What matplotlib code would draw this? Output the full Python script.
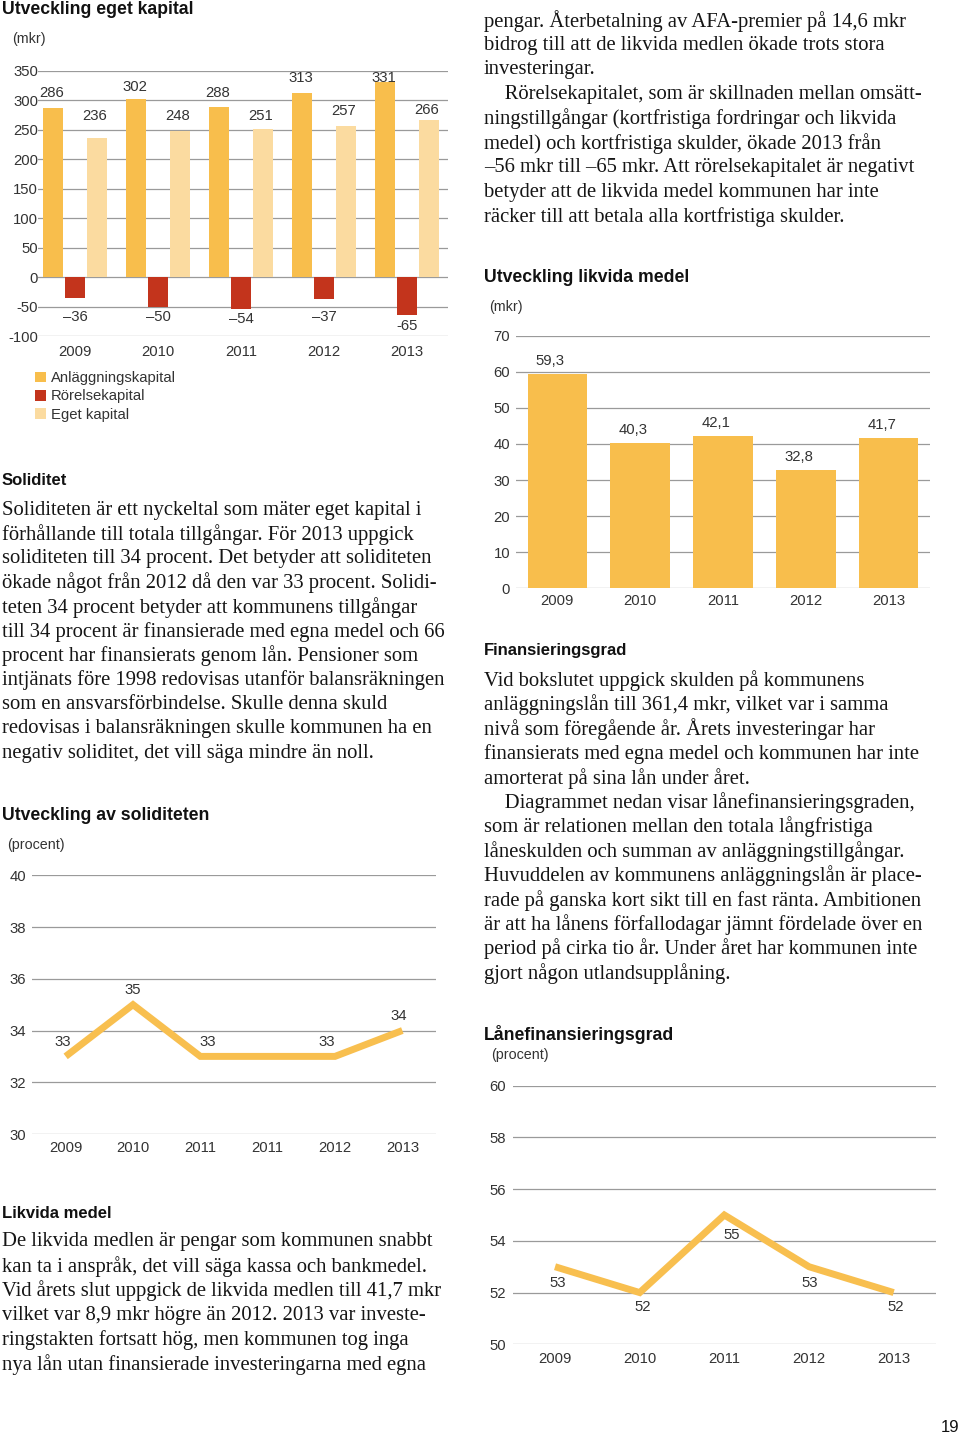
import matplotlib
matplotlib.use('Agg')
import matplotlib.pyplot as plt

W, H = 960, 1436
plt.rcParams['font.family'] = ['Liberation Sans', 'DejaVu Sans']
plt.rcParams['axes.unicode_minus'] = False

# ---------------- data ----------------
years = ['2009', '2010', '2011', '2012', '2013']
anlaggningskapital = [286, 302, 288, 313, 331]
rorelsekapital = [-36, -50, -54, -37, -65]
rorelse_labels = ['–36', '–50', '–54', '–37', '-65']
eget_kapital = [236, 248, 251, 257, 266]
kapital_ticks = [-100, -50, 0, 50, 100, 150, 200, 250, 300, 350]

likvida_medel = [59.3, 40.3, 42.1, 32.8, 41.7]
likvida_labels = ['59,3', '40,3', '42,1', '32,8', '41,7']
likvida_ticks = [0, 10, 20, 30, 40, 50, 60, 70]

soliditet_years = ['2009', '2010', '2011', '2011', '2012', '2013']
soliditet = [33, 35, 33, 33, 33, 34]
soliditet_labels = ['33', '35', '33', '', '33', '34']
soliditet_ticks = [30, 32, 34, 36, 38, 40]

lanefin = [53, 52, 55, 53, 52]
lanefin_ticks = [50, 52, 54, 56, 58, 60]

# ---------------- text ----------------
text_right_top = [
    "pengar. Återbetalning av AFA-premier på 14,6 mkr",
    "bidrog till att de likvida medlen ökade trots stora",
    "investeringar.",
    "\u2003Rörelsekapitalet, som är skillnaden mellan omsätt-",
    "ningstillgångar (kortfristiga fordringar och likvida",
    "medel) och kortfristiga skulder, ökade 2013 från",
    "–56 mkr till –65 mkr. Att rörelsekapitalet är negativt",
    "betyder att de likvida medel kommunen har inte",
    "räcker till att betala alla kortfristiga skulder.",
]
text_soliditet = [
    "Soliditeten är ett nyckeltal som mäter eget kapital i",
    "förhållande till totala tillgångar. För 2013 uppgick",
    "soliditeten till 34 procent. Det betyder att soliditeten",
    "ökade något från 2012 då den var 33 procent. Solidi-",
    "teten 34 procent betyder att kommunens tillgångar",
    "till 34 procent är finansierade med egna medel och 66",
    "procent har finansierats genom lån. Pensioner som",
    "intjänats före 1998 redovisas utanför balansräkningen",
    "som en ansvarsförbindelse. Skulle denna skuld",
    "redovisas i balansräkningen skulle kommunen ha en",
    "negativ soliditet, det vill säga mindre än noll.",
]
text_finans = [
    "Vid bokslutet uppgick skulden på kommunens",
    "anläggningslån till 361,4 mkr, vilket var i samma",
    "nivå som föregående år. Årets investeringar har",
    "finansierats med egna medel och kommunen har inte",
    "amorterat på sina lån under året.",
    "\u2003Diagrammet nedan visar lånefinansieringsgraden,",
    "som är relationen mellan den totala långfristiga",
    "låneskulden och summan av anläggningstillgångar.",
    "Huvuddelen av kommunens anläggningslån är place-",
    "rade på ganska kort sikt till en fast ränta. Ambitionen",
    "är att ha lånens förfallodagar jämnt fördelade över en",
    "period på cirka tio år. Under året har kommunen inte",
    "gjort någon utlandsupplåning.",
]
text_likvida = [
    "De likvida medlen är pengar som kommunen snabbt",
    "kan ta i anspråk, det vill säga kassa och bankmedel.",
    "Vid årets slut uppgick de likvida medlen till 41,7 mkr",
    "vilket var 8,9 mkr högre än 2012. 2013 var investe-",
    "ringstakten fortsatt hög, men kommunen tog inga",
    "nya lån utan finansierade investeringarna med egna",
]

# ---------------- styles ----------------
C_ANL = '#F8BE4C'
C_ROR = '#C3341C'
C_EGET = '#FBDBA0'
C_LINE = '#F8BF4F'
C_GRID = '#9a9a9a'
C_TICK = '#333333'
TS = 10.7
SERIF = ['Liberation Serif', 'DejaVu Serif']
BODY_FS = 14.85

fig = plt.figure(figsize=(W / 100, H / 100), dpi=100)


def add_ax(x0, y0, x1, y1):
    return fig.add_axes([x0 / W, 1 - y1 / H, (x1 - x0) / W, (y1 - y0) / H])


def ftext(x, y, s, **kw):
    kw.setdefault('va', 'center')
    fig.text(x / W, 1 - y / H, s, **kw)


def heading(x, y, s, fs=12.7):
    ftext(x, y, s, fontsize=fs, fontweight='bold', color='#111111')


def body(x, y0, lines, step=24.45):
    for i, ln in enumerate(lines):
        ftext(x, y0 + i * step, ln, fontsize=BODY_FS, family=SERIF, color='#151515')


def style(ax, ticks, ylim, xlim, ypad, xpad, labels=None):
    ax.set_ylim(*ylim)
    ax.set_xlim(*xlim)
    ax.set_yticks(ticks)
    ax.set_yticklabels(labels if labels is not None else [str(t) for t in ticks])
    for s in ax.spines.values():
        s.set_visible(False)
    ax.tick_params(axis='both', length=0, labelsize=TS, colors=C_TICK)
    ax.tick_params(axis='y', pad=ypad)
    ax.tick_params(axis='x', pad=xpad)
    ax.grid(axis='y', color=C_GRID, lw=0.9)
    ax.grid(axis='x', visible=False)
    ax.set_axisbelow(True)
    ax.patch.set_alpha(0)


# ---------- Chart 1: Utveckling eget kapital ----------
heading(2, 9.5, 'Utveckling eget kapital')
ftext(12, 39, '(mkr)', fontsize=10.3, color=C_TICK)
ax1 = add_ax(38, 70.7, 448, 336)
style(ax1, kapital_ticks, (-100, 350), (-0.446, 4.494), 0, 6.2)
x = list(range(len(years)))
b1 = ax1.bar([i - 0.265 for i in x], anlaggningskapital, width=0.24, color=C_ANL, zorder=3,
             label='Anläggningskapital')
b2 = ax1.bar(x, rorelsekapital, width=0.24, color=C_ROR, zorder=3, label='Rörelsekapital')
b3 = ax1.bar([i + 0.27 for i in x], eget_kapital, width=0.24, color=C_EGET, zorder=3,
             label='Eget kapital')
ax1.set_xticks(x)
ax1.set_xticklabels(years)
anl_off = [15, 12, 14, 15, 4]
eget_off = [22, 15, 13, 15, 10]
for i in x:
    ax1.annotate(str(anlaggningskapital[i]), (i - 0.265, anlaggningskapital[i]),
                 xytext=(-1, anl_off[i]), textcoords='offset pixels', ha='center', va='center',
                 fontsize=TS, color=C_TICK)
    ax1.annotate(str(eget_kapital[i]), (i + 0.27, eget_kapital[i]),
                 xytext=(-3, eget_off[i]), textcoords='offset pixels', ha='center', va='center',
                 fontsize=TS, color=C_TICK)
    ax1.annotate(rorelse_labels[i], (i, min(rorelsekapital[i], -50)),
                 xytext=(0, -10.5), textcoords='offset pixels', ha='center', va='center',
                 fontsize=TS, color=C_TICK)
leg = ax1.legend(handles=[b1, b2, b3], loc='upper left',
                 bbox_to_anchor=(35 / W, 1 - 371 / H), bbox_transform=fig.transFigure,
                 frameon=False, fontsize=TS, handlelength=0.72, handleheight=0.72,
                 handletextpad=0.35, labelspacing=0.3, borderpad=0, borderaxespad=0)
for t in leg.get_texts():
    t.set_color(C_TICK)

# ---------- Right column top text ----------
body(484, 20.7, text_right_top, step=24.5)

# ---------- Chart 2: Utveckling likvida medel ----------
heading(484, 278, 'Utveckling likvida medel')
ftext(489, 307, '(mkr)', fontsize=10.3, color=C_TICK)
ax2 = add_ax(516, 335.7, 930, 588.3)
style(ax2, likvida_ticks, (0, 70), (-0.5, 4.5), 4.3, 4)
ax2.bar(x, likvida_medel, width=0.72, color=C_ANL, zorder=3)
ax2.set_xticks(x)
ax2.set_xticklabels(years)
for i in x:
    ax2.annotate(likvida_labels[i], (i, likvida_medel[i]), xytext=(-7, 13),
                 textcoords='offset pixels', ha='center', va='center', fontsize=TS, color=C_TICK)

# ---------- Soliditet text ----------
heading(2, 480, 'Soliditet', fs=12)
body(2, 510, text_soliditet, step=24.33)

# ---------- Finansieringsgrad text ----------
heading(484, 650.5, 'Finansieringsgrad', fs=12)
body(484, 680.5, text_finans, step=24.4)

# ---------- Chart 3: Utveckling av soliditeten ----------
heading(2, 815, 'Utveckling av soliditeten')
ftext(7, 845, '(procent)', fontsize=10.3, color=C_TICK)
ax3 = add_ax(32, 875.3, 436, 1134)
style(ax3, soliditet_ticks, (30, 40), (-0.5, 5.5), 4.3, 5.2)
xs = list(range(len(soliditet_years)))
ax3.plot(xs, soliditet, color=C_LINE, lw=5, zorder=3, solid_joinstyle='miter',
         solid_capstyle='butt')
ax3.set_xticks(xs)
ax3.set_xticklabels(soliditet_years)
sol_dx = [-3, 0, 7, 0, -8, -4]
for i in xs:
    if soliditet_labels[i]:
        ax3.annotate(soliditet_labels[i], (i, soliditet[i]), xytext=(sol_dx[i], 14.5),
                     textcoords='offset pixels', ha='center', va='center', fontsize=TS,
                     color=C_TICK)

# ---------- Likvida medel text ----------
heading(2, 1213, 'Likvida medel', fs=12)
body(2, 1241.7, text_likvida, step=24.65)

# ---------- Chart 4: Lånefinansieringsgrad ----------
heading(484, 1035, 'Lånefinansieringsgrad')
ftext(491, 1055, '(procent)', fontsize=10.3, color=C_TICK)
ax4 = add_ax(512.7, 1085.7, 936, 1344.3)
style(ax4, lanefin_ticks, (50, 60), (-0.5, 4.5), 4.8, 5.2)
ax4.plot(x, lanefin, color=C_LINE, lw=5, zorder=3, solid_joinstyle='miter',
         solid_capstyle='butt')
ax4.set_xticks(x)
ax4.set_xticklabels(years)
lan_dx = [3, 3, 7, 1, 2]
lan_dy = [-16.5, -14, -20, -16.5, -14]
for i in x:
    ax4.annotate(str(lanefin[i]), (i, lanefin[i]), xytext=(lan_dx[i], lan_dy[i]),
                 textcoords='offset pixels', ha='center', va='center', fontsize=TS,
                 color=C_TICK)

# page number
ftext(959, 1428, '19', fontsize=12, ha='right', color='#111111')

fig.savefig('out.png', dpi=100)
